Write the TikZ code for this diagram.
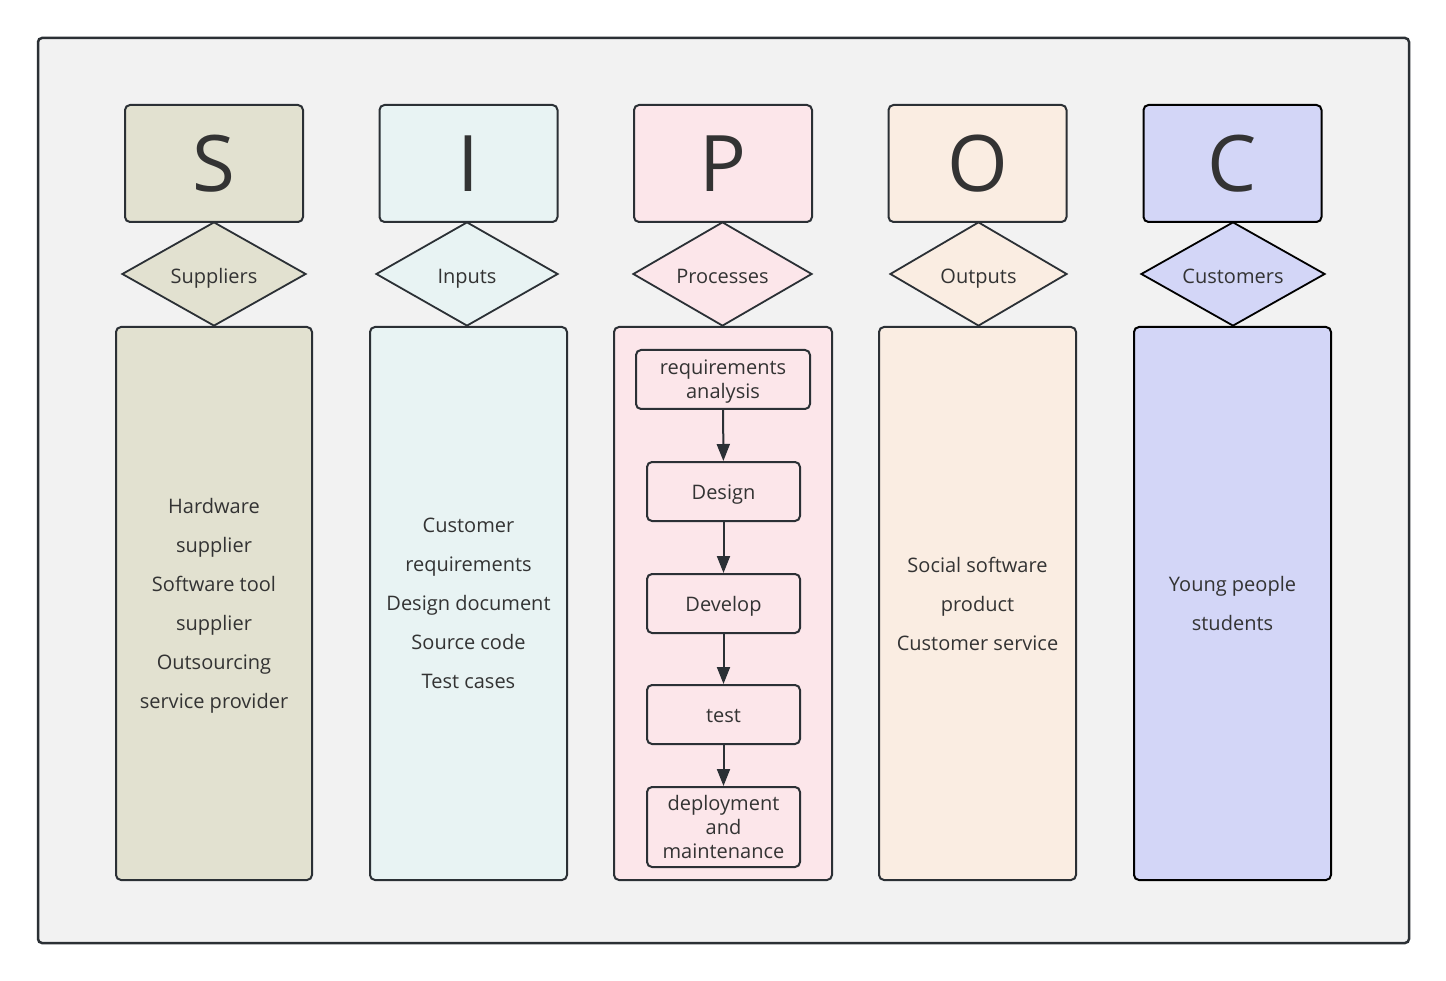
\documentclass[tikz,border=0pt]{standalone}
\usepackage{fontspec}
\setmainfont{Open Sans}
\usetikzlibrary{shapes.geometric,arrows.meta}
\definecolor{bg}{HTML}{F2F2F2}
\definecolor{ln}{HTML}{2B3035}
\definecolor{tx}{HTML}{333333}
\definecolor{cS}{HTML}{E2E1D0}
\definecolor{cI}{HTML}{E8F3F3}
\definecolor{cP}{HTML}{FCE6EA}
\definecolor{cO}{HTML}{FAEDE2}
\definecolor{cC}{HTML}{D3D6F7}
\begin{document}
\begin{tikzpicture}[x=1pt,y=-1pt,
  every node/.style={text=tx},
  frame/.style={draw=ln,fill=bg,line width=2.5pt,rounded corners=4pt,minimum width=1371pt,minimum height=905pt},
  letterbox/.style={draw=ln,line width=2pt,rounded corners=5pt,minimum width=178pt,minimum height=117pt,inner sep=0pt,font=\fontsize{78}{78}\selectfont},
  tag/.style={draw=ln,line width=1.8pt,diamond,inner sep=0pt,minimum width=184pt,minimum height=104pt,shape aspect=1.77},
  tagtext/.style={inner sep=0pt,text height=14pt,text depth=4pt,yshift=-4.5pt,font=\fontsize{20}{24}\selectfont},
  bigbox/.style={draw=ln,line width=2pt,rounded corners=5pt,minimum height=553pt,inner sep=0pt},
  boxtext/.style={inner sep=0pt,align=center,text depth=0pt,font=\fontsize{20}{39}\selectfont},
  stepbox/.style={draw=ln,line width=2pt,rounded corners=5pt,fill=cP,inner sep=0pt},
  steptext/.style={inner sep=0pt,align=center,text depth=0pt,font=\fontsize{20}{24}\selectfont},
  onestep/.style={inner sep=0pt,text height=14pt,text depth=4pt,yshift=-3pt,font=\fontsize{20}{24}\selectfont},
  flow/.style={draw=ln,line width=2pt,-{Triangle[length=17pt,width=13pt]}}]
\useasboundingbox (0,0) rectangle (1446,981);
\fill[white] (0,0) rectangle (1446,981);
\node[frame] (frame) at (723.5,490.5) {};
% S
\node[letterbox,fill=cS] (S) at (214,163.5) {S};
\node[tag,fill=cS] (dS) at (214,274) {};
\node[tagtext] (tS) at (dS.center) {Suppliers};
\node[bigbox,fill=cS,minimum width=196pt] (bS) at (214,603.5) {};
\node[boxtext] (xS) at (bS.center) {Hardware\\supplier\\Software tool\\supplier\\Outsourcing\\service provider};
% I
\node[letterbox,fill=cI] (I) at (468.5,163.5) {I};
\node[tag,fill=cI,minimum width=182pt] (dI) at (467,274) {};
\node[tagtext] (tI) at (dI.center) {Inputs};
\node[bigbox,fill=cI,minimum width=197pt] (bI) at (468.5,603.5) {};
\node[boxtext] (xI) at (bI.center) {Customer\\requirements\\Design document\\Source code\\Test cases};
% P
\node[letterbox,fill=cP] (P) at (723,163.5) {P};
\node[tag,fill=cP,minimum width=179pt] (dP) at (722.5,274) {};
\node[tagtext] (tP) at (dP.center) {Processes};
\node[bigbox,fill=cP,minimum width=218pt] (bP) at (723,603.5) {};
\node[stepbox,minimum width=174pt,minimum height=59pt] (p1) at (723,379.5) {};
\node[steptext] (t1) at (p1.center) {requirements\\analysis};
\node[stepbox,minimum width=153pt,minimum height=59pt] (p2) at (723.5,491.5) {};
\node[onestep] (t2) at (p2.center) {Design};
\node[stepbox,minimum width=153pt,minimum height=59pt] (p3) at (723.5,603.5) {};
\node[onestep] (t3) at (p3.center) {Develop};
\node[stepbox,minimum width=153pt,minimum height=59pt] (p4) at (723.5,714.5) {};
\node[onestep] (t4) at (p4.center) {test};
\node[stepbox,minimum width=153pt,minimum height=80pt] (p5) at (723.5,827) {};
\node[steptext] (t5) at (p5.center) {deployment\\and\\maintenance};
\draw[flow] (p1) -- (p2);
\draw[flow] (p2) -- (p3);
\draw[flow] (p3) -- (p4);
\draw[flow] (p4) -- (p5);
% O
\node[letterbox,fill=cO] (O) at (977.5,163.5) {O};
\node[tag,fill=cO,minimum width=177pt] (dO) at (978.5,274) {};
\node[tagtext] (tO) at (dO.center) {Outputs};
\node[bigbox,fill=cO,minimum width=197pt] (bO) at (977.5,603.5) {};
\node[boxtext] (xO) at (bO.center) {Social software\\product\\Customer service};
% C
\node[letterbox,fill=cC,draw=black] (C) at (1232.5,163.5) {C};
\node[tag,fill=cC,draw=black] (dC) at (1233,274) {};
\node[tagtext] (tC) at (dC.center) {Customers};
\node[bigbox,fill=cC,draw=black,minimum width=197pt] (bC) at (1232.5,603.5) {};
\node[boxtext] (xC) at (bC.center) {Young people\\students};
\end{tikzpicture}
\end{document}
